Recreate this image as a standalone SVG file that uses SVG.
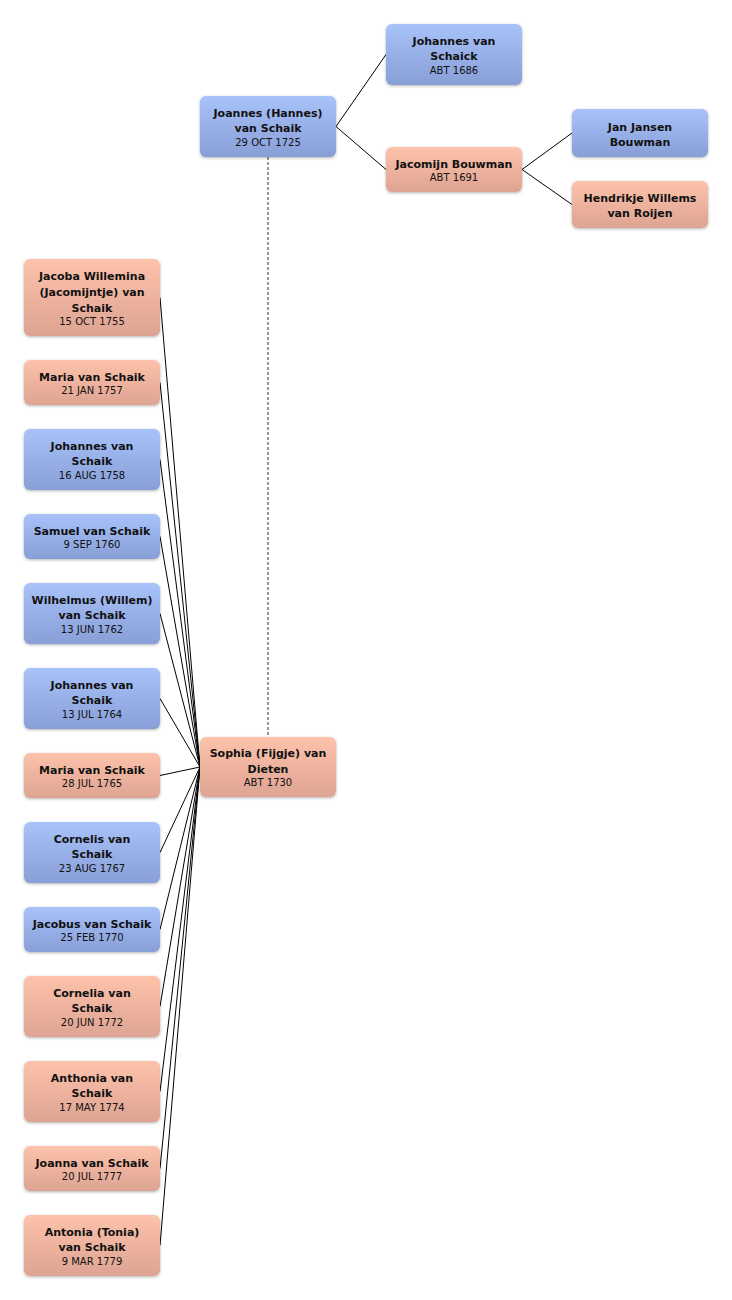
<svg xmlns="http://www.w3.org/2000/svg" width="732" height="1300" viewBox="0 0 732 1300">
<defs>
<linearGradient id="gm" x1="0" y1="0" x2="0" y2="1"><stop offset="0" stop-color="#a8c2fa"/><stop offset="1" stop-color="#889ed6"/></linearGradient>
<linearGradient id="gf" x1="0" y1="0" x2="0" y2="1"><stop offset="0" stop-color="#fcc2aa"/><stop offset="1" stop-color="#dea493"/></linearGradient>
<filter id="sh" x="-10%" y="-20%" width="120%" height="140%"><feDropShadow dx="0" dy="1" stdDeviation="1.5" flood-color="#000" flood-opacity="0.3"/></filter>
</defs>
<style>
.m{fill:url(#gm);filter:url(#sh)}
.f{fill:url(#gf);filter:url(#sh)}
.n{font-family:"DejaVu Sans",Verdana,sans-serif;font-weight:bold;font-size:11px;fill:#111;text-anchor:middle}
.d{font-family:"DejaVu Sans",Verdana,sans-serif;font-size:10px;fill:#111;text-anchor:middle}
.c{stroke:#000;stroke-width:1;fill:none}
.s{stroke:#777;stroke-width:1.5;stroke-dasharray:3 2;fill:none}
</style>
<rect width="732" height="1300" fill="#fff"/>
<g id="connectors">
<line class="s" x1="268" y1="157" x2="268" y2="737"/>
<line class="c" x1="336" y1="126.5" x2="386" y2="54.5"/>
<line class="c" x1="336" y1="126.5" x2="386" y2="169.5"/>
<line class="c" x1="522" y1="169.5" x2="572" y2="133"/>
<line class="c" x1="522" y1="169.5" x2="572" y2="204.5"/>
<line class="c" x1="160" y1="297.5" x2="200" y2="767"/>
<line class="c" x1="160" y1="382.5" x2="200" y2="767"/>
<line class="c" x1="160" y1="459.5" x2="200" y2="767"/>
<line class="c" x1="160" y1="536.5" x2="200" y2="767"/>
<line class="c" x1="160" y1="613.5" x2="200" y2="767"/>
<line class="c" x1="160" y1="698.5" x2="200" y2="767"/>
<line class="c" x1="160" y1="775.5" x2="200" y2="767"/>
<line class="c" x1="160" y1="852.5" x2="200" y2="767"/>
<line class="c" x1="160" y1="929.5" x2="200" y2="767"/>
<line class="c" x1="160" y1="1006.5" x2="200" y2="767"/>
<line class="c" x1="160" y1="1091.5" x2="200" y2="767"/>
<line class="c" x1="160" y1="1168.5" x2="200" y2="767"/>
<line class="c" x1="160" y1="1245.5" x2="200" y2="767"/>
</g>
<g id="joannes"><rect class="m" x="200" y="96" width="136" height="61" rx="6"/><text class="n" x="268" y="117">Joannes (Hannes)</text><text class="n" x="268" y="132">van Schaik</text><text class="d" x="268" y="145.5">29 OCT 1725</text></g>
<g id="johannes-schaick"><rect class="m" x="386" y="24" width="136" height="61" rx="6"/><text class="n" x="454" y="45">Johannes van</text><text class="n" x="454" y="60">Schaick</text><text class="d" x="454" y="73.5">ABT 1686</text></g>
<g id="jacomijn"><rect class="f" x="386" y="147" width="136" height="45" rx="6"/><text class="n" x="454" y="168">Jacomijn Bouwman</text><text class="d" x="454" y="180.5">ABT 1691</text></g>
<g id="jan-jansen"><rect class="m" x="572" y="109" width="136" height="48" rx="6"/><text class="n" x="640" y="131">Jan Jansen</text><text class="n" x="640" y="146">Bouwman</text></g>
<g id="hendrikje"><rect class="f" x="572" y="181" width="136" height="47" rx="6"/><text class="n" x="640" y="202">Hendrikje Willems</text><text class="n" x="640" y="217">van Roijen</text></g>
<g id="sophia"><rect class="f" x="200" y="737" width="136" height="60" rx="6"/><text class="n" x="268" y="757">Sophia (Fijgje) van</text><text class="n" x="268" y="773">Dieten</text><text class="d" x="268" y="785.5">ABT 1730</text></g>
<g id="jacoba"><rect class="f" x="24" y="259" width="136" height="77" rx="6"/><text class="n" x="92" y="280">Jacoba Willemina</text><text class="n" x="92" y="296">(Jacomijntje) van</text><text class="n" x="92" y="312">Schaik</text><text class="d" x="92" y="324.5">15 OCT 1755</text></g>
<g id="maria1"><rect class="f" x="24" y="360" width="136" height="45" rx="6"/><text class="n" x="92" y="381">Maria van Schaik</text><text class="d" x="92" y="393.5">21 JAN 1757</text></g>
<g id="johannes1"><rect class="m" x="24" y="429" width="136" height="61" rx="6"/><text class="n" x="92" y="450">Johannes van</text><text class="n" x="92" y="465">Schaik</text><text class="d" x="92" y="478.5">16 AUG 1758</text></g>
<g id="samuel"><rect class="m" x="24" y="514" width="136" height="45" rx="6"/><text class="n" x="92" y="535">Samuel van Schaik</text><text class="d" x="92" y="547.5">9 SEP 1760</text></g>
<g id="wilhelmus"><rect class="m" x="24" y="583" width="136" height="61" rx="6"/><text class="n" x="92" y="604">Wilhelmus (Willem)</text><text class="n" x="92" y="619">van Schaik</text><text class="d" x="92" y="632.5">13 JUN 1762</text></g>
<g id="johannes2"><rect class="m" x="24" y="668" width="136" height="61" rx="6"/><text class="n" x="92" y="689">Johannes van</text><text class="n" x="92" y="704">Schaik</text><text class="d" x="92" y="717.5">13 JUL 1764</text></g>
<g id="maria2"><rect class="f" x="24" y="753" width="136" height="45" rx="6"/><text class="n" x="92" y="774">Maria van Schaik</text><text class="d" x="92" y="786.5">28 JUL 1765</text></g>
<g id="cornelis"><rect class="m" x="24" y="822" width="136" height="61" rx="6"/><text class="n" x="92" y="843">Cornelis van</text><text class="n" x="92" y="858">Schaik</text><text class="d" x="92" y="871.5">23 AUG 1767</text></g>
<g id="jacobus"><rect class="m" x="24" y="907" width="136" height="45" rx="6"/><text class="n" x="92" y="928">Jacobus van Schaik</text><text class="d" x="92" y="940.5">25 FEB 1770</text></g>
<g id="cornelia"><rect class="f" x="24" y="976" width="136" height="61" rx="6"/><text class="n" x="92" y="997">Cornelia van</text><text class="n" x="92" y="1012">Schaik</text><text class="d" x="92" y="1025.5">20 JUN 1772</text></g>
<g id="anthonia"><rect class="f" x="24" y="1061" width="136" height="61" rx="6"/><text class="n" x="92" y="1082">Anthonia van</text><text class="n" x="92" y="1097">Schaik</text><text class="d" x="92" y="1110.5">17 MAY 1774</text></g>
<g id="joanna"><rect class="f" x="24" y="1146" width="136" height="45" rx="6"/><text class="n" x="92" y="1167">Joanna van Schaik</text><text class="d" x="92" y="1179.5">20 JUL 1777</text></g>
<g id="antonia"><rect class="f" x="24" y="1215" width="136" height="61" rx="6"/><text class="n" x="92" y="1236">Antonia (Tonia)</text><text class="n" x="92" y="1251">van Schaik</text><text class="d" x="92" y="1264.5">9 MAR 1779</text></g>
</svg>
